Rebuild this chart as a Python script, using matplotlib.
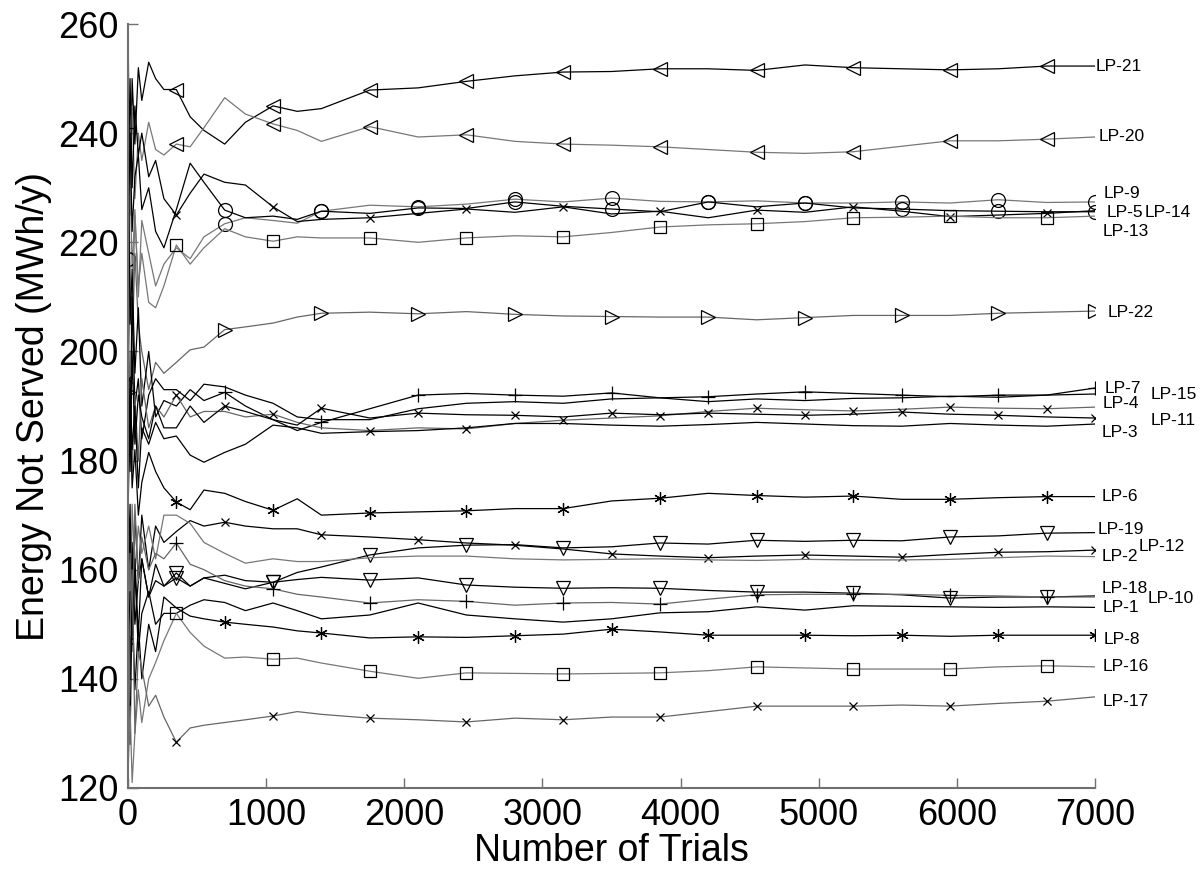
import matplotlib.pyplot as plt
import numpy as np

plt.rcParams['font.family'] = ['Liberation Sans', 'DejaVu Sans']

trials = [0, 15, 30, 50, 75, 100, 150, 200, 260, 350, 450, 550, 700, 850, 1050, 1225, 1400,
          1750, 2100, 2450, 2800, 3150, 3500, 3850, 4200, 4550, 4900, 5250, 5600, 5950, 6300, 6650, 7000]

# energy not served (MWh/y) per load point
lp21 = [240, 225, 250, 238, 252, 246, 253, 250, 248, 248, 243, 240.5, 238, 242, 245, 244, 244.5,
        247.9, 248.3, 249.5, 250.5, 251.2, 251.3, 251.8, 251.8, 251.5, 252.5, 252.0, 251.8, 251.6, 251.8, 252.3, 252.3]
lp20 = [260, 230, 245, 228, 240, 235, 242, 237, 236, 238, 237.5, 241, 246.5, 243.5, 241.7, 240.5, 238.5,
        241.2, 239.3, 239.7, 238.5, 238.0, 237.8, 237.5, 237.0, 236.5, 236.3, 236.6, 237.6, 238.6, 238.6, 238.9, 239.3]
lp9 = [217, 232, 215, 226, 210, 224, 218, 212, 216, 219, 217, 221, 223.4, 224.5, 224, 223.5, 225.7,
       226.8, 226.5, 227.0, 227.9, 227.4, 228.1, 227.5, 227.4, 227.6, 227.2, 227.2, 227.4, 227.2, 227.8, 227.3, 227.4]
lp5 = [217, 240, 222, 232, 236, 226, 230, 222, 219, 226, 234.5, 231, 225.9, 224.5, 224.8, 224.2, 225.7,
       225.3, 226.3, 226.2, 227.4, 226.6, 226.1, 225.6, 227.4, 226.5, 227.2, 226.3, 226.1, 225.8, 225.7, 225.6, 225.6]
lp14 = [228, 250, 230, 245, 236, 240, 232, 235, 228, 225, 229, 232.5, 231, 230.5, 226.5, 223.8, 224.2,
        224.5, 225.3, 226.1, 225.5, 226.5, 225.2, 225.7, 224.5, 225.9, 225.5, 226.5, 225.7, 224.7, 225.0, 225.3, 225.8]
lp13 = [235, 215, 205, 225, 212, 218, 209, 208, 212, 219.5, 216, 219, 222.5, 221, 220.2, 221, 220.8,
        220.8, 220.0, 220.8, 221.2, 221.0, 221.8, 222.8, 223.2, 223.4, 223.8, 224.5, 224.6, 224.8, 224.5, 224.5, 224.8]
lp22 = [192.6, 212, 200, 218, 205, 200, 193, 198, 196, 198, 200.3, 200.8, 204, 204.5, 205.2, 206.3, 207,
        207.2, 206.9, 207.3, 206.8, 206.5, 206.4, 206.3, 206.3, 205.8, 206.2, 206.6, 206.6, 206.6, 207.0, 207.2, 207.4]
lp7 = [241, 205, 215, 196, 208, 190, 200, 188, 191, 190, 193, 191, 192.5, 190, 187.5, 185.5, 187,
       189.5, 192.0, 192.3, 192.0, 191.8, 192.4, 191.5, 191.7, 192.2, 192.6, 192.3, 192.0, 191.7, 192.0, 192.0, 193.3]
lp15 = [200, 185, 210, 190, 195, 184, 192, 195, 193, 193, 191, 194, 193.5, 192, 190.5, 188, 187.5,
        187.5, 189.5, 190.5, 190.8, 190.5, 191.3, 191.5, 190.8, 191.3, 191.0, 191.4, 191.5, 191.8, 191.6, 192.0, 192.2]
lp4 = [185, 200, 178, 192, 180, 195, 186, 190, 188, 192, 188, 189, 189, 188, 188.5, 187, 186,
       185.5, 186.0, 185.8, 186.8, 187.4, 187.8, 188.2, 189.0, 189.6, 189.3, 189.1, 189.4, 189.8, 189.6, 189.5, 189.8]
lp11 = [195, 178, 200, 183, 192, 188, 184, 190, 186, 186, 190, 187, 190, 189, 187.5, 186.5, 189.6,
        187.8, 188.7, 188.4, 188.3, 188.0, 188.7, 188.4, 188.7, 188.5, 188.3, 188.5, 188.9, 188.5, 188.3, 188.0, 187.8]
lp3 = [176, 195, 182, 190, 175, 186, 183, 187, 184, 184.5, 181, 179.7, 181.5, 183, 186.5, 186, 185,
       185.3, 185.5, 186.0, 186.8, 186.8, 186.5, 186.3, 186.6, 187.0, 186.7, 186.4, 186.3, 186.8, 186.5, 186.3, 186.7]
lp6 = [170, 190, 175, 182, 170, 176, 181.5, 178, 175, 172.4, 171, 174.6, 174, 172.5, 170.9, 173, 170,
       170.4, 170.6, 170.8, 171.2, 171.2, 172.6, 173.1, 174.0, 173.6, 173.3, 173.5, 172.9, 172.9, 173.2, 173.4, 173.4]
lp19 = [160, 140, 165, 150, 158, 162, 155, 158, 157, 159.4, 157, 158.5, 157.5, 156.5, 157.7, 159.5, 160.5,
        162.7, 164.0, 164.5, 164.6, 164.0, 164.2, 164.9, 164.7, 165.4, 165.2, 165.4, 165.3, 166.0, 166.2, 166.7, 166.8]
lp12 = [150, 168, 155, 170, 158, 170, 160, 168, 165, 167, 169, 168, 168.7, 168, 167.5, 167.5, 166.4,
        166.0, 165.5, 164.9, 164.5, 163.8, 162.9, 162.5, 162.2, 162.5, 162.7, 162.5, 162.3, 162.8, 163.2, 163.3, 163.6]
lp2 = [165, 148, 172, 160, 168, 163, 168, 162, 170, 170, 168.5, 165, 163, 161.2, 162, 161.5, 161.5,
       162.2, 162.5, 162.5, 162.0, 161.8, 161.9, 162.0, 161.8, 161.7, 161.9, 161.8, 161.8, 161.9, 162.2, 162.5, 162.4]
lp18 = [158, 172, 150, 162, 148, 162, 155, 161, 157, 158.5, 157, 158.5, 159, 158, 157.7, 158.2, 158.6,
        158.1, 158.5, 157.2, 156.8, 156.6, 156.7, 156.6, 156.2, 155.9, 155.9, 155.7, 155.4, 154.8, 155.0, 155.0, 155.2]
lp10 = [150, 163, 145, 172, 158, 166, 160, 163, 162, 164.9, 161, 160, 158, 157, 156.5, 155.5, 155,
        153.9, 154.5, 154.2, 153.5, 153.9, 154.0, 153.7, 154.6, 155.4, 155.5, 155.5, 155.5, 155.3, 155.2, 155.0, 155.0]
lp1 = [140, 156, 148, 160, 145, 152, 156, 150, 152, 152, 153.5, 154.5, 154, 152.5, 153.9, 152.5, 151,
       151.7, 153.9, 151.7, 151.0, 150.4, 151.0, 152.1, 152.3, 153.2, 152.6, 153.4, 153.3, 153.2, 153.1, 153.2, 153.1]
lp8 = [147, 128, 155, 138, 150, 140, 150, 145, 155, 153, 151.5, 151, 150.4, 150, 149.5, 148.8, 148.4,
       147.5, 147.7, 147.6, 147.9, 148.2, 149.1, 148.6, 148.0, 148.0, 148.0, 147.9, 148.0, 147.8, 148.0, 148.0, 148.0]
lp16 = [122, 135, 121, 130, 138, 132, 140, 143, 147, 152, 148.5, 146, 143.8, 144, 143.6, 143.8, 142.9,
        141.4, 140.1, 141.1, 141.0, 140.9, 141.0, 141.1, 141.5, 142.2, 142.0, 141.8, 141.8, 141.8, 142.2, 142.4, 142.2]
lp17 = [120, 150, 160, 130, 145, 142, 135, 137, 133, 128.4, 131, 131.5, 132, 132.5, 133.2, 134, 133.5,
        132.8, 132.5, 132.1, 132.8, 132.5, 133.0, 133.0, 134.0, 135.0, 135.0, 135.0, 135.2, 135.0, 135.5, 135.9, 136.7]

# asterisk marker like MATLAB's '*'
AST = (6, 2, 0)

# name, values, marker, marker set ('A' = 350+700k, 'B' = 700k), line colour
series = [
    ('LP-21', lp21, '<', 'A', 'black'),
    ('LP-20', lp20, '<', 'A', '#777777'),
    ('LP-9', lp9, 'o', 'B', '#777777'),
    ('LP-5', lp5, 'o', 'B', 'black'),
    ('LP-14', lp14, 'x', 'A', 'black'),
    ('LP-13', lp13, 's', 'A', '#777777'),
    ('LP-22', lp22, '>', 'B', '#666666'),
    ('LP-7', lp7, '+', 'B', 'black'),
    ('LP-15', lp15, None, None, 'black'),
    ('LP-4', lp4, 'x', 'A', '#666666'),
    ('LP-11', lp11, 'x', 'B', 'black'),
    ('LP-3', lp3, None, None, 'black'),
    ('LP-6', lp6, AST, 'A', 'black'),
    ('LP-19', lp19, 'v', 'A', 'black'),
    ('LP-12', lp12, 'x', 'B', 'black'),
    ('LP-2', lp2, None, None, '#777777'),
    ('LP-18', lp18, 'v', 'A', 'black'),
    ('LP-10', lp10, '+', 'A', '#666666'),
    ('LP-1', lp1, None, None, 'black'),
    ('LP-8', lp8, AST, 'B', 'black'),
    ('LP-16', lp16, 's', 'A', '#777777'),
    ('LP-17', lp17, 'x', 'A', '#666666'),
]

# where the curve names are written
label_pos = {
    'LP-21': (7002, 252.3), 'LP-20': (7024, 239.3), 'LP-9': (7060, 229.0), 'LP-5': (7082, 225.5),
    'LP-14': (7357, 225.5), 'LP-13': (7053, 221.9), 'LP-22': (7089, 207.2), 'LP-7': (7067, 193.3),
    'LP-15': (7400, 192.2), 'LP-4': (7053, 190.5), 'LP-11': (7400, 187.4), 'LP-3': (7046, 185.2),
    'LP-6': (7046, 173.5), 'LP-19': (7017, 167.3), 'LP-12': (7313, 164.2), 'LP-2': (7046, 162.5),
    'LP-18': (7046, 156.5), 'LP-10': (7379, 154.8), 'LP-1': (7053, 153.0), 'LP-8': (7060, 147.3),
    'LP-16': (7053, 142.2), 'LP-17': (7053, 135.8),
}

t = np.array(trials)
marks = {'A': np.isin(t, np.arange(350, 7000, 700)),
         'B': np.isin(t, np.arange(0, 7001, 700))}

fig = plt.figure(figsize=(12.04, 8.74), dpi=100)
ax = fig.add_axes([0.1063, 0.0984, 0.8032, 0.8741])

for name, vals, mk, mset, col in series:
    if mk is None:
        ax.plot(t, vals, color=col, lw=0.9)
    else:
        if mk == AST:
            size = 9
        elif mk == 'x':
            size = 6
        elif mk == 's':
            size = 9
        else:
            size = 10
        ax.plot(t, vals, color=col, lw=0.9, marker=mk, markevery=list(marks[mset]),
                ms=size, mfc='none', mec='black', mew=0.9)
    lx, ly = label_pos[name]
    ax.text(lx, ly, name, fontsize=12.5, ha='left', va='center', clip_on=False)

ax.set_xlim(0, 7000)
ax.set_ylim(120, 260)
ax.set_xticks(np.arange(0, 7001, 1000))
ax.set_yticks(np.arange(120, 261, 20))
ax.spines['top'].set_visible(False)
ax.spines['right'].set_visible(False)
for s in ['left', 'bottom']:
    ax.spines[s].set_color('#707070')
    ax.spines[s].set_linewidth(1.5)
ax.tick_params(direction='in', length=7, width=1, color='#707070', labelsize=26, pad=7)

ax.set_xlabel('Number of Trials', fontsize=27, labelpad=0)
ax.set_ylabel('Energy Not Served (MWh/y)', fontsize=27, labelpad=4)

fig.savefig('out.png', dpi=100)
